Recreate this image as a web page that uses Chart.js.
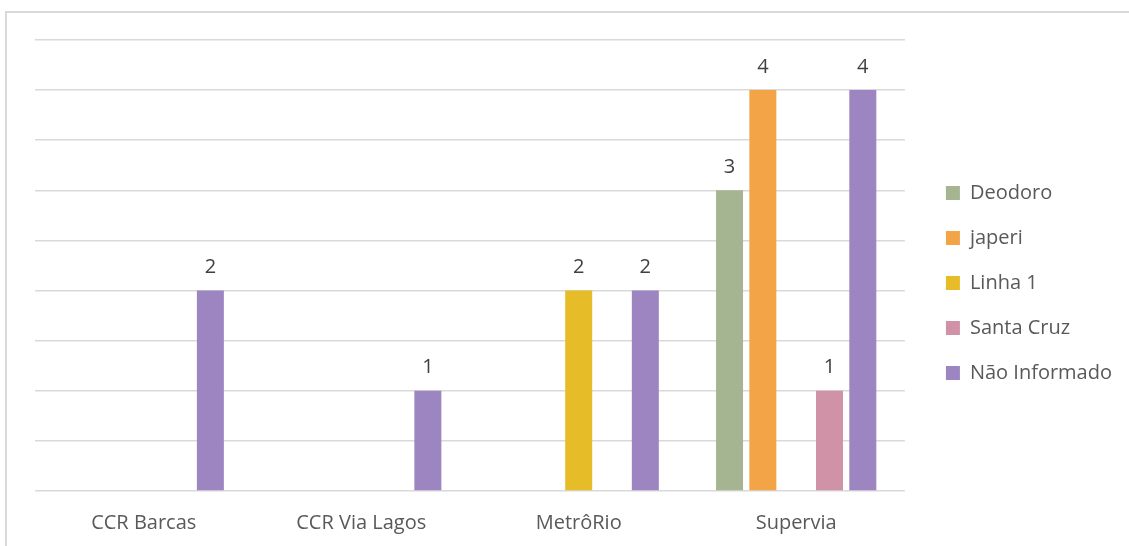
<!DOCTYPE html>
<html>
<head>
<meta charset="utf-8">
<script src="https://cdn.jsdelivr.net/npm/chart.js@4/dist/chart.umd.min.js"></script>
<style>
  html,body{margin:0;padding:0;background:#fff;overflow:hidden}
  #wrap{position:relative;width:1129px;height:546px}
  #frame{position:absolute;left:5px;top:11px;width:1200px;height:600px;border:2px solid #d9d9d9}
  canvas{position:absolute;left:0;top:0}
</style>
</head>
<body>
<div id="wrap"><div id="frame"></div><canvas id="c" width="1129" height="546"></canvas></div>
<script>
const categories = ["CCR Barcas", "CCR Via Lagos", "MetrôRio", "Supervia"];
const deodoro      = [0, 0, 0, 3];
const japeri       = [0, 0, 0, 4];
const linha1       = [0, 0, 2, 0];
const santaCruz    = [0, 0, 0, 1];
const naoInformado = [2, 1, 2, 4];

const FONT = "'Open Sans', sans-serif";

// value labels above each bar (skip zeros)
const valueLabels = {
  id: "valueLabels",
  afterDatasetsDraw(chart){
    const ctx = chart.ctx;
    ctx.save();
    ctx.font = "20px " + FONT;
    ctx.fillStyle = "#404040";
    ctx.textAlign = "center";
    ctx.textBaseline = "middle";
    chart.data.datasets.forEach((ds,i)=>{
      chart.getDatasetMeta(i).data.forEach((bar,j)=>{
        if(!ds.data[j]) return;
        ctx.fillText(ds.data[j], bar.x, bar.y - 23);
      });
    });
    ctx.restore();
  }
};

// nudge the legend block up a bit, the x axis takes the full bottom strip
const legendShift = {
  id: "legendShift",
  afterLayout(chart){
    if(!chart.legend) return;
    chart.legend.top -= 10; chart.legend.bottom -= 10;
  }
};

new Chart(document.getElementById("c"),{
  type:"bar",
  data:{labels:categories,datasets:[
    {label:"Deodoro",data:deodoro,backgroundColor:"#a5b592"},
    {label:"japeri",data:japeri,backgroundColor:"#f3a447"},
    {label:"Linha 1",data:linha1,backgroundColor:"#e7bc29"},
    {label:"Santa Cruz",data:santaCruz,backgroundColor:"#d092a7"},
    {label:"Não Informado",data:naoInformado,backgroundColor:"#9c85c0"},
  ]},
  options:{
    responsive:false, animation:false, devicePixelRatio:1,
    categoryPercentage:0.766, barPercentage:0.81,
    layout:{padding:{top:40,bottom:0,left:35,right:7}},
    plugins:{
      legend:{position:"right",align:"center",maxWidth:300,
        labels:{boxWidth:14,boxHeight:14,padding:25,color:"#595959",font:{family:FONT,size:20}}},
      tooltip:{enabled:false}
    },
    scales:{
      x:{grid:{display:false},border:{display:false},
        ticks:{color:"#595959",padding:12,font:{family:FONT,size:20},maxRotation:0},
        afterFit:s=>{s.height=55;}},
      y:{min:0,max:4.5,ticks:{display:false,stepSize:0.5},
        grid:{color:"#d9d9d9",lineWidth:1.5,drawTicks:false},border:{display:false},
        afterFit:s=>{s.width=0;}},
      gap:{position:"right",display:true,grid:{display:false},border:{display:false},
        ticks:{display:false},afterFit:s=>{s.width=16;}}
    }
  },
  plugins:[valueLabels, legendShift]
});
</script>
</body>
</html>
